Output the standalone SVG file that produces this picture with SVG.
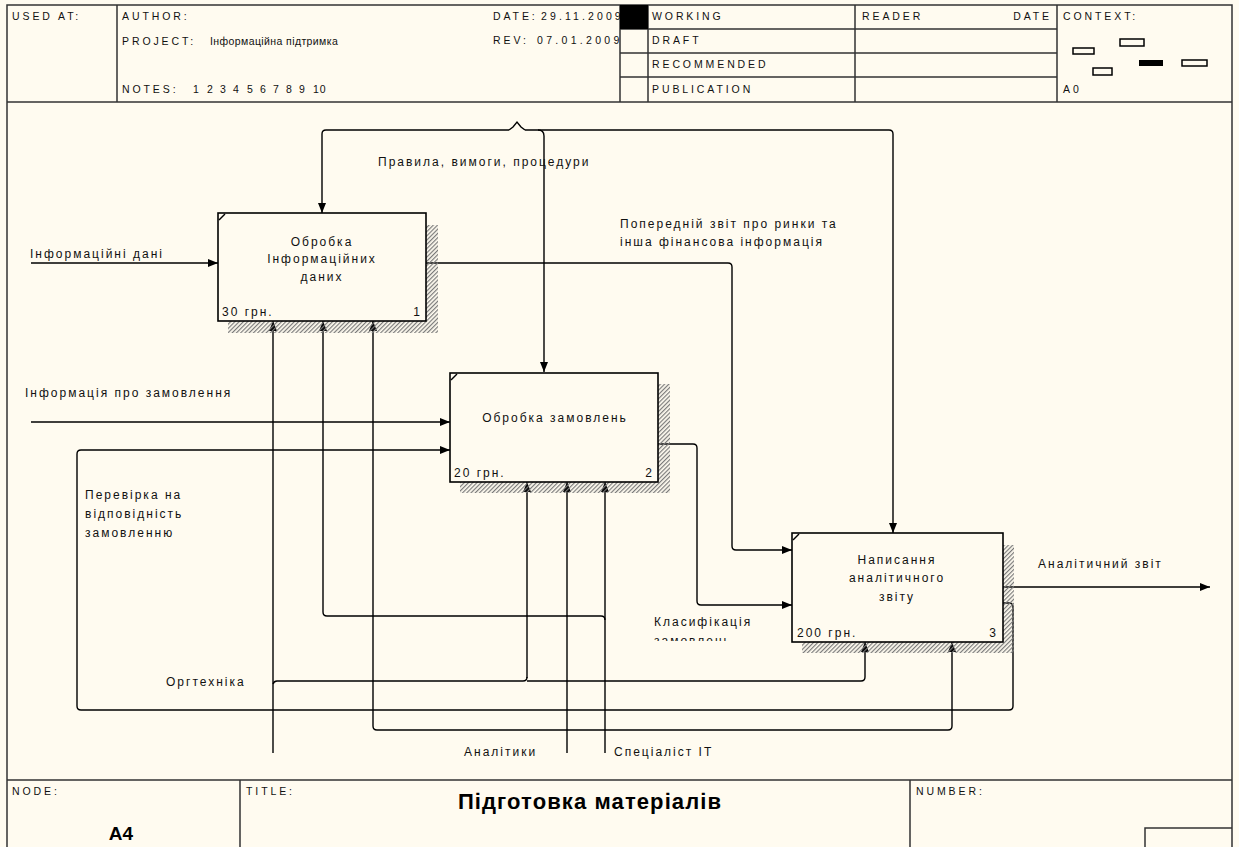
<svg xmlns="http://www.w3.org/2000/svg" width="1239" height="847" viewBox="0 0 1239 847">
  <style>
    .t { font-family: "Liberation Sans", Arial, sans-serif; font-size: 12px; letter-spacing: 2px; fill: #111; }
    .h { font-family: "Liberation Sans", Arial, sans-serif; font-size: 10.5px; letter-spacing: 2.9px; fill: #111; }
    .hm { letter-spacing: 0.4px; }
    .b { font-family: "Liberation Sans", Arial, sans-serif; font-weight: bold; fill: #000; }
    .frame { fill: none; stroke: #333; stroke-width: 1.5; }
    .ln { fill: none; stroke: #000; stroke-width: 1.4; }
    .arr { fill: none; stroke: #000; stroke-width: 1.4; marker-end: url(#head); }
    .box { fill: #fffbf0; stroke: #000; stroke-width: 1.6; }
    .shadow { fill: url(#hatch); }
  </style>
  <defs>
    <marker id="head" markerUnits="userSpaceOnUse" markerWidth="10" markerHeight="8" refX="10" refY="4" orient="auto">
      <path d="M0,0 L10,4 L0,8 z" fill="#000"/>
    </marker>
    <pattern id="hatch" patternUnits="userSpaceOnUse" width="3" height="3" patternTransform="rotate(45)">
      <rect width="1.2" height="3" fill="#7a7a7a"/>
    </pattern>
    <clipPath id="revclip"><rect x="117" y="5" width="503" height="97"/></clipPath>
    <clipPath id="lblclip"><rect x="600" y="600" width="200" height="41"/></clipPath>
  </defs>

  <!-- page -->
  <rect width="1239" height="847" fill="#fffbf0"/>

  <!-- header block -->
  <g id="header">
    <path class="frame" d="M7,847 V5 H1232 V847"/>
    <path class="frame" d="M7,102 H1232 M117,5 V102 M620,5 V102 M648,5 V102 M855,5 V102 M1057,5 V102 M620,29 H1057 M620,53 H1057 M620,77 H1057"/>
    <rect x="620" y="5" width="28" height="24" fill="#000"/>
    <text class="h" x="12" y="20">USED AT:</text>
    <text class="h" x="122" y="20">AUTHOR:</text>
    <text class="h" x="122" y="45">PROJECT:<tspan class="hm" x="210">Інформаційна підтримка</tspan></text>
    <text class="h" x="122" y="93">NOTES:<tspan x="193">1</tspan><tspan x="207">2</tspan><tspan x="220">3</tspan><tspan x="233">4</tspan><tspan x="247">5</tspan><tspan x="260">6</tspan><tspan x="273">7</tspan><tspan x="286">8</tspan><tspan x="299">9</tspan><tspan x="313" letter-spacing="1">10</tspan></text>
    <g clip-path="url(#revclip)">
      <text class="h" x="493" y="20" letter-spacing="2.2">DATE:<tspan x="541" letter-spacing="3.1">29.11.2009</tspan></text>
      <text class="h" x="493" y="44" letter-spacing="2.2">REV:<tspan x="537" letter-spacing="3.3">07.01.2009</tspan></text>
    </g>
    <text class="h" x="652" y="20">WORKING</text>
    <text class="h" x="652" y="44">DRAFT</text>
    <text class="h" x="652" y="68">RECOMMENDED</text>
    <text class="h" x="652" y="93">PUBLICATION</text>
    <text class="h" x="862" y="20" letter-spacing="2.2">READER</text>
    <text class="h" x="1052" y="20" text-anchor="end" letter-spacing="2.2">DATE</text>
    <text class="h" x="1063" y="20" letter-spacing="2.2">CONTEXT:</text>
    <g fill="none" stroke="#000" stroke-width="1.5">
      <rect x="1073" y="48" width="21" height="6"/>
      <rect x="1120" y="39" width="24" height="7"/>
      <rect x="1093" y="68" width="19" height="7"/>
      <rect x="1182" y="60" width="25" height="6"/>
    </g>
    <rect x="1139" y="60" width="24" height="6" fill="#000"/>
    <text class="h" x="1063" y="93" letter-spacing="1">A0</text>
  </g>

  <!-- connectors -->
  <g id="connectors">
    <!-- inputs -->
    <path class="arr" d="M31,263 H218"/>
    <path class="arr" d="M31,422 H450"/>
    <!-- box 1 output to box 3 -->
    <path class="arr" d="M426,263 H728 Q732,263 732,267 V546 Q732,550 736,550 H792"/>
    <!-- box 2 output to box 3 -->
    <path class="arr" d="M658,444 H693 Q697,444 697,448 V601 Q697,605 701,605 H792"/>
    <!-- box 3 output -->
    <path class="arr" d="M1003,587 H1210"/>
    <!-- feedback from box 3 to box 2 -->
    <path class="arr" d="M1003,603 H1009 Q1013,603 1013,607 V706 Q1013,710 1009,710 H81 Q77,710 77,706 V454 Q77,450 81,450 H450"/>
    <!-- controls -->
    <path class="ln" d="M509,130 L513,127 L517,122 L521,127 L525,130"/>
    <path class="arr" d="M509,130 H326 Q322,130 322,134 V213"/>
    <path class="arr" d="M525,130 H889 Q893,130 893,134 V533"/>
    <path class="arr" d="M538,130 Q544,130 544,136 V372"/>
    <!-- mechanism: Оргтехніка -->
    <path class="arr" d="M273,753 V321"/>
    <path class="ln" d="M273,684 Q274,681 277,681 H523 Q527,681 527,677"/>
    <path class="arr" d="M527,678 V482"/>
    <path class="arr" d="M527,681 H861 Q865,681 865,677 V642"/>
    <!-- mechanism: Спеціаліст IT -->
    <path class="arr" d="M605,753 V482"/>
    <path class="arr" d="M605,620 Q605,616 601,616 H327 Q323,616 323,612 V321"/>
    <!-- mechanism: Аналітики -->
    <path class="arr" d="M567,753 V482"/>
    <path class="arr" d="M567,730 H377 Q373,730 373,726 V321"/>
    <path class="arr" d="M567,730 H948 Q952,730 952,726 V642"/>
  </g>

  <!-- arrow labels -->
  <g id="labels">
    <text class="t" x="30" y="258">Інформаційні дані</text>
    <text class="t" x="25" y="397">Інформація про замовлення</text>
    <text class="t" x="378" y="166">Правила, вимоги, процедури</text>
    <text class="t" x="620" y="228">Попередній звіт про ринки та</text>
    <text class="t" x="620" y="246">інша фінансова інформація</text>
    <text class="t" x="85" y="499">Перевірка на</text>
    <text class="t" x="85" y="518">відповідність</text>
    <text class="t" x="85" y="537">замовленню</text>
    <text class="t" x="1038" y="568">Аналітичний звіт</text>
    <text class="t" x="654" y="626">Класифікація</text>
    <text class="t" x="654" y="645" clip-path="url(#lblclip)">замовлень</text>
    <text class="t" x="166" y="686">Оргтехніка</text>
    <text class="t" x="464" y="756">Аналітики</text>
    <text class="t" x="614" y="756">Спеціаліст IT</text>
  </g>

  <!-- activity 1 -->
  <g id="node1">
    <path class="shadow" d="M426,225 H438 V333 H228 V321 H426 z"/>
    <rect class="box" x="218" y="213" width="208" height="108"/>
    <path class="ln" d="M219,220 L225,214"/>
    <text class="t" x="322" y="246" text-anchor="middle">Обробка</text>
    <text class="t" x="322" y="263" text-anchor="middle">Інформаційних</text>
    <text class="t" x="322" y="281" text-anchor="middle">даних</text>
    <text class="t" x="222" y="316">30 грн.</text>
    <text class="t" x="422" y="316" text-anchor="end">1</text>
  </g>

  <!-- activity 2 -->
  <g id="node2">
    <path class="shadow" d="M658,384 H670 V493 H460 V482 H658 z"/>
    <rect class="box" x="450" y="373" width="208" height="109"/>
    <path class="ln" d="M451,380 L457,374"/>
    <text class="t" x="555" y="422" text-anchor="middle">Обробка замовлень</text>
    <text class="t" x="454" y="477">20 грн.</text>
    <text class="t" x="654" y="477" text-anchor="end">2</text>
  </g>

  <!-- activity 3 -->
  <g id="node3">
    <path class="shadow" d="M1003,545 H1014 V653 H802 V642 H1003 z"/>
    <rect class="box" x="792" y="533" width="211" height="109"/>
    <path class="ln" d="M793,540 L799,534"/>
    <text class="t" x="897" y="564" text-anchor="middle">Написання</text>
    <text class="t" x="897" y="582" text-anchor="middle">аналітичного</text>
    <text class="t" x="897" y="601" text-anchor="middle">звіту</text>
    <text class="t" x="797" y="637">200 грн.</text>
    <text class="t" x="998" y="637" text-anchor="end">3</text>
  </g>

  <!-- footer block -->
  <g id="footer">
    <path class="frame" stroke="#777" d="M7,780 H1232 M240,780 V847 M910,780 V847 M1145,847 V828 H1232"/>
    <text class="h" x="12" y="795" letter-spacing="1.5">NODE:</text>
    <text class="b" x="121" y="840" font-size="19" text-anchor="middle">A4</text>
    <text class="h" x="246" y="795" letter-spacing="1.5">TITLE:</text>
    <text class="b" x="590" y="809" font-size="22" text-anchor="middle" letter-spacing="1.1">Підготовка матеріалів</text>
    <text class="h" x="916" y="795" letter-spacing="1.5">NUMBER:</text>
  </g>
</svg>
